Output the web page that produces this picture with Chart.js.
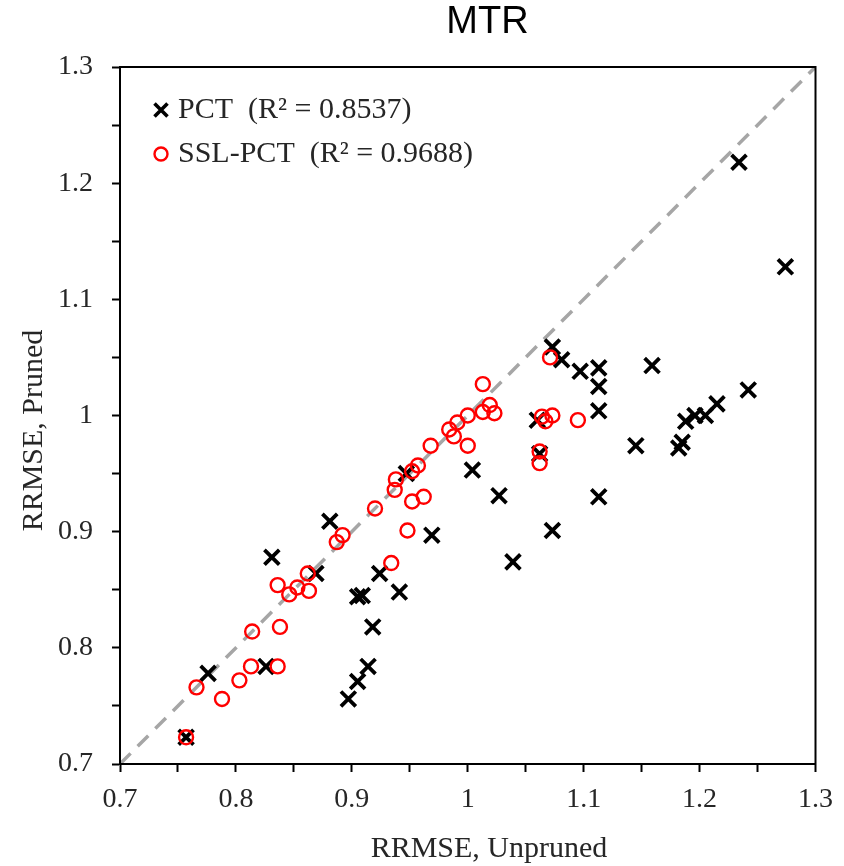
<!DOCTYPE html>
<html><head><meta charset="utf-8">
<script src="https://cdn.jsdelivr.net/npm/chart.js@4.4.1/dist/chart.umd.min.js"></script>
<style>html,body{margin:0;padding:0;background:#fff}#wrap{width:844px;height:866px}</style>
</head><body><div id="wrap"><canvas id="c" width="844" height="866"></canvas></div>
<script>
const chartTitle = 'MTR';
const xAxisTitle = 'RRMSE, Unpruned';
const yAxisTitle = 'RRMSE, Pruned';
const seriesNames = ['PCT  (R\u00B2 = 0.8537)', 'SSL-PCT  (R\u00B2 = 0.9688)'];
const tickValues = [0.7, 0.75, 0.8, 0.85, 0.9, 0.95, 1.0, 1.05, 1.1, 1.15, 1.2, 1.25, 1.3];
const tickLabels = ['0.7', '', '0.8', '', '0.9', '', '1', '', '1.1', '', '1.2', '', '1.3'];
const refLineX = [0.7, 1.3];
const refLineY = [0.7, 1.3];
const pctX = [0.757,0.776,0.826,0.831,0.869,0.881,0.897,0.905,0.914,0.918,0.905,0.909,0.924,0.941,0.947,0.969,1.004,1.027,1.039,1.060,1.062,1.073,1.081,1.097,1.113,1.113,1.113,1.073,1.113,1.159,1.145,1.182,1.185,1.188,1.196,1.205,1.215,1.242,1.234,1.274];
const pctY = [0.723,0.778,0.784,0.878,0.864,0.909,0.756,0.771,0.784,0.818,0.844,0.845,0.864,0.848,0.950,0.897,0.953,0.931,0.874,0.996,0.967,1.059,1.048,1.038,1.041,1.025,1.004,0.901,0.930,1.043,0.974,0.972,0.977,0.995,1.000,1.000,1.010,1.022,1.218,1.128];
const sslX = [0.757,0.766,0.788,0.803,0.813,0.836,0.814,0.838,0.836,0.846,0.853,0.863,0.862,0.887,0.892,0.920,0.934,0.948,0.937,0.938,0.952,0.962,0.952,0.957,0.968,0.984,0.988,0.991,1.000,1.000,1.013,1.019,1.013,1.023,1.071,1.064,1.067,1.073,1.062,1.062,1.095];
const sslY = [0.723,0.766,0.756,0.772,0.784,0.784,0.814,0.818,0.854,0.846,0.852,0.849,0.864,0.891,0.897,0.920,0.873,0.901,0.936,0.945,0.926,0.930,0.952,0.957,0.974,0.988,0.982,0.994,1.000,0.974,1.027,1.009,1.003,1.002,1.050,0.999,0.995,1.000,0.969,0.959,0.996];

const toPts = (xs, ys) => xs.map((x, i) => ({x: x, y: ys[i]}));
const SERIF = '"Liberation Serif", "Times New Roman", serif';
const LABEL_COLOR = '#262626';

const decor = {
  id: 'decor',
  afterDraw(chart) {
    const {ctx, chartArea: a} = chart;
    ctx.save();
    ctx.strokeStyle = '#000';
    ctx.lineWidth = 2;
    ctx.setLineDash([]);
    ctx.strokeRect(a.left, a.top, a.right - a.left, a.bottom - a.top);
    // title
    ctx.fillStyle = '#000';
    ctx.textAlign = 'center';
    ctx.textBaseline = 'middle';
    ctx.font = '38px "Liberation Sans", Arial, sans-serif';
    ctx.fillText(chartTitle, 487.5, 23);
    // axis titles
    ctx.fillStyle = LABEL_COLOR;
    ctx.font = '30px ' + SERIF;
    ctx.fillText(xAxisTitle, 489, 849);
    ctx.save();
    ctx.translate(34, 430.5);
    ctx.rotate(-Math.PI / 2);
    ctx.fillText(yAxisTitle, 0, 0);
    ctx.restore();
    // legend
    const rows = [110, 154];
    const mx = 161;
    ctx.strokeStyle = '#000';
    ctx.lineWidth = 3.6;
    ctx.beginPath();
    ctx.moveTo(mx - 6.5, rows[0] - 6.5); ctx.lineTo(mx + 6.5, rows[0] + 6.5);
    ctx.moveTo(mx - 6.5, rows[0] + 6.5); ctx.lineTo(mx + 6.5, rows[0] - 6.5);
    ctx.stroke();
    ctx.strokeStyle = '#ff0000';
    ctx.lineWidth = 2.4;
    ctx.beginPath();
    ctx.arc(mx, rows[1], 6.5, 0, Math.PI * 2);
    ctx.stroke();
    ctx.fillStyle = LABEL_COLOR;
    ctx.textAlign = 'left';
    ctx.font = '30px ' + SERIF;
    ctx.fillText(seriesNames[0], 178, rows[0]);
    ctx.fillText(seriesNames[1], 178, rows[1]);
    ctx.restore();
  }
};

const axisCommon = (isX) => ({
  type: 'linear',
  min: 0.7,
  max: 1.3,
  afterBuildTicks: (s) => { s.ticks = tickValues.map(v => ({value: v})); },
  ticks: {
    autoSkip: false,
    maxRotation: 0,
    padding: isX ? 11 : 19,
    color: LABEL_COLOR,
    font: {family: SERIF, size: 28},
    callback: (v, i) => tickLabels[i]
  },
  grid: {display: true, drawOnChartArea: false, drawTicks: true, tickLength: 8, tickWidth: 2, tickColor: '#000'},
  border: {display: true, color: '#000', width: 2},
  afterFit: (s) => { if (isX) { s.height = 102; } else { s.width = 120; } }
});

new Chart(document.getElementById('c'), {
  type: 'scatter',
  data: {
    datasets: [
      {
        label: 'y = x',
        data: toPts(refLineX, refLineY),
        showLine: true,
        borderColor: '#a6a6a6',
        borderWidth: 3.5,
        borderDash: [15, 10],
        pointRadius: 0,
        fill: false,
        order: 3
      },
      {
        label: seriesNames[0],
        data: toPts(pctX, pctY),
        pointStyle: 'crossRot',
        pointRadius: 10.5,
        pointHoverRadius: 10.5,
        borderColor: '#000',
        backgroundColor: '#000',
        pointBorderWidth: 3.8,
        borderWidth: 3.8,
        order: 2
      },
      {
        label: seriesNames[1],
        data: toPts(sslX, sslY),
        pointStyle: 'circle',
        pointRadius: 7,
        pointHoverRadius: 7,
        borderColor: '#ff0000',
        backgroundColor: 'rgba(0,0,0,0)',
        pointBorderWidth: 2.4,
        borderWidth: 2.4,
        order: 1
      }
    ]
  },
  options: {
    responsive: false,
    animation: false,
    devicePixelRatio: 1,
    layout: {padding: {top: 67, right: 27, left: 0, bottom: 0}},
    plugins: {legend: {display: false}, title: {display: false}, tooltip: {enabled: false}},
    scales: {x: axisCommon(true), y: axisCommon(false)}
  },
  plugins: [decor]
});
</script>
</body></html>
